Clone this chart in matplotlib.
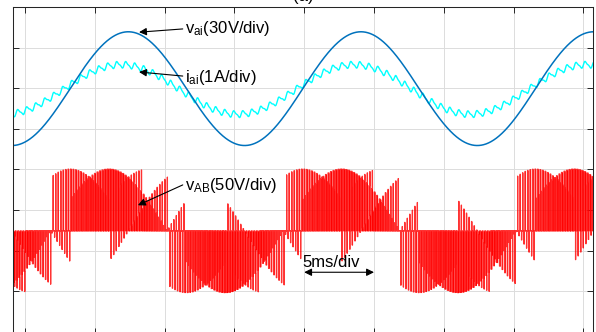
import matplotlib
matplotlib.use('Agg')
import matplotlib.pyplot as plt
import numpy as np

# time in ms, amplitudes in scope divisions (8 divisions high)
t_ticks = [0, 5, 10, 15, 20, 25, 30, 35, 40]
t_lim = [-0.86, 40.69]
div_ticks = [0, 1, 2, 3, 4, 5, 6, 7, 8]

f_grid = 60.0            # Hz, input = output frequency
v_ai_amp = 1.40          # div (30V/div)
v_ai_offset = 5.99
v_ai_peak = 7.40         # ms
i_ai_amp = 0.61          # div (1A/div)
i_ai_offset = 5.97
i_ai_peak = 6.90         # ms
i_ripple_freq = [1550.0, 3100.0]
i_ripple_amp = [0.07, 0.025]
v_line_amp = 1.52        # div (50V/div)
v_AB_offset = 2.49
q_ratio = 0.5            # voltage transfer ratio
f_sw = 5500.0            # switching frequency, Hz

plt.rcParams['font.family'] = ['Liberation Sans', 'DejaVu Sans']
plt.rcParams['mathtext.fontset'] = 'custom'
plt.rcParams['mathtext.rm'] = 'Liberation Sans'
plt.rcParams['mathtext.default'] = 'regular'


def phase_v(t):
    """normalized input phase voltages at t (ms)"""
    th = 2 * np.pi * f_grid * (t - v_ai_peak) / 1000.0
    return np.array([np.cos(th), np.cos(th - 2 * np.pi / 3), np.cos(th + 2 * np.pi / 3)])


t = np.linspace(t_lim[0], t_lim[1], 6000)
v_ai = v_ai_offset + v_ai_amp * np.cos(2 * np.pi * f_grid * (t - v_ai_peak) / 1000.0)
i_ai = i_ai_offset + i_ai_amp * np.cos(2 * np.pi * f_grid * (t - i_ai_peak) / 1000.0)
for fr, a in zip(i_ripple_freq, i_ripple_amp):
    i_ai = i_ai + a * np.sin(2 * np.pi * fr * t / 1000.0)

# venturini modulation of output line voltage vAB
Ts = 1000.0 / f_sw
xs, ys = [], []
for t0 in np.arange(t_lim[0] - Ts, t_lim[1] + Ts, Ts):
    vin = phase_v(t0 + Ts / 2)
    mA = (1 + 2 * q_ratio * vin[0] * vin) / 3
    mB = (1 + 2 * q_ratio * vin[1] * vin) / 3
    bA = np.concatenate([[0], np.cumsum(mA)])
    bB = np.concatenate([[0], np.cumsum(mB)])
    edges = np.unique(np.clip(np.concatenate([bA, bB]), 0, 1))
    for e0, e1 in zip(edges[:-1], edges[1:]):
        mid = (e0 + e1) / 2
        ja = min(np.searchsorted(bA, mid) - 1, 2)
        jb = min(np.searchsorted(bB, mid) - 1, 2)
        ta, tb = t0 + e0 * Ts, t0 + e1 * Ts
        vnow = phase_v((ta + tb) / 2)
        val = (vnow[ja] - vnow[jb]) * v_line_amp / np.sqrt(3)
        xs += [ta, tb]
        ys += [val, val]
xs = np.array(xs)
ys = np.array(ys) + v_AB_offset

fig = plt.figure(figsize=(5.96, 3.32), dpi=100)
ax = fig.add_axes([13 / 596, -2 / 332, 580 / 596, 327 / 332])

ax.fill_between(xs, v_AB_offset, ys, color='#ff0000', lw=0)
ax.plot(xs, ys, color='#ff0000', lw=0.9, alpha=0.8)
ax.plot(t, i_ai, color='#00ffff', lw=1.0)
ax.plot(t, v_ai, color='#0072bd', lw=1.1)

ax.set_xlim(t_lim)
ax.set_ylim(-0.05, 8)
ax.set_xticks(t_ticks)
ax.set_yticks(div_ticks)
ax.set_xticklabels([])
ax.set_yticklabels([])
ax.tick_params(direction='in', length=4, width=0.7, color='#262626',
               top=True, right=True)
ax.grid(True, color='#dcdcdc', lw=0.7)
ax.set_axisbelow(True)
for s in ax.spines.values():
    s.set_color('#262626')
    s.set_linewidth(0.75)
ax.set_title('(a)', fontsize=12, pad=4)

arr = dict(arrowstyle='-|>', color='black', lw=0.8, mutation_scale=11,
           shrinkA=0, shrinkB=0)
ax.annotate('', xy=(8.17, 7.38), xytext=(11.3, 7.46), arrowprops=arr)
ax.text(11.46, 7.36, r'v$_{ai}$(30V/div)', fontsize=12, va='baseline')
ax.annotate('', xy=(8.17, 6.40), xytext=(11.3, 6.30), arrowprops=arr)
ax.text(11.46, 6.15, r'i$_{ai}$(1A/div)', fontsize=12, va='baseline')
ax.annotate('', xy=(8.09, 3.12), xytext=(11.3, 3.62), arrowprops=arr)
ax.text(11.46, 3.49, r'v$_{AB}$(50V/div)', fontsize=12, va='baseline')

ax.annotate('', xy=(20.0, 1.47), xytext=(25.0, 1.47),
            arrowprops=dict(arrowstyle='<|-|>', color='black', lw=0.8,
                            mutation_scale=11, shrinkA=0, shrinkB=0))
ax.text(19.9, 1.60, '5ms/div', fontsize=12, va='baseline')

fig.savefig('out.png', dpi=100)
